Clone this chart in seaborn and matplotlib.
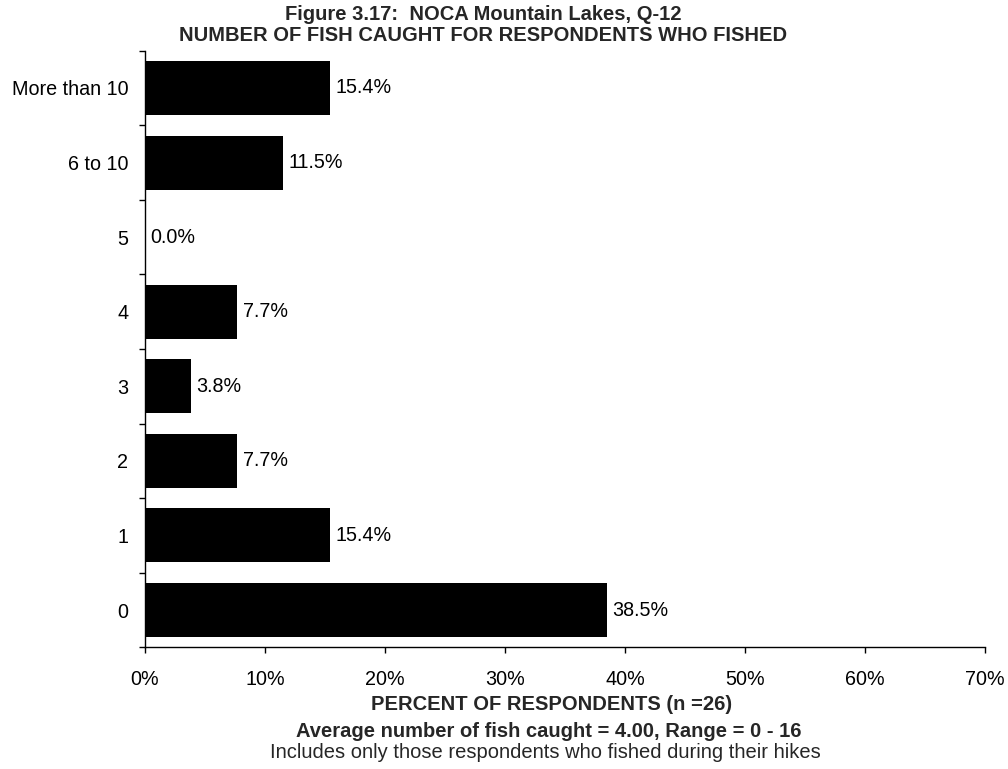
import numpy as np
import pandas as pd
import matplotlib
matplotlib.use("Agg")
import matplotlib.pyplot as plt
import seaborn as sns
from matplotlib.ticker import FixedLocator, PercentFormatter

categories = ["More than 10", "6 to 10", "5", "4", "3", "2", "1", "0"]
percents = [15.4, 11.5, 0.0, 7.7, 3.8, 7.7, 15.4, 38.5]
x_ticks = [0, 10, 20, 30, 40, 50, 60, 70]

title_lines = ["Figure 3.17:  NOCA Mountain Lakes, Q-12",
               "NUMBER OF FISH CAUGHT FOR RESPONDENTS WHO FISHED"]
x_label = "PERCENT OF RESPONDENTS (n =26)"
summary_line = "Average number of fish caught = 4.00, Range = 0 - 16"
note_line = "Includes only those respondents who fished during their hikes"

sns.set_theme(style="ticks")
plt.rcParams["font.family"] = ["Liberation Sans", "DejaVu Sans"]

df = pd.DataFrame({"category": categories, "percent": percents})

W, H = 1008, 769
fig = plt.figure(figsize=(W / 100, H / 100), dpi=100)
ax = fig.add_axes([145 / W, 1 - 647.3 / H, 840 / W, 596.6 / H])

sns.barplot(data=df, y="category", x="percent", order=categories,
            orient="h", color="black", width=0.724, saturation=1,
            edgecolor="black", linewidth=0, ax=ax)

for container in ax.containers:
    ax.bar_label(container, labels=[f"{v:.1f}%" for v in percents],
                 padding=4, fontsize=14.2, color="black")

ax.set_xlim(0, 70)
ax.set_ylim(len(categories) - 0.5, -0.5)
ax.set_xticks(x_ticks)
ax.xaxis.set_major_formatter(PercentFormatter(decimals=0))
ax.tick_params(axis="x", labelsize=14.2, length=4.3, width=1, color="black",
               direction="out", pad=12, labelcolor="black")
ax.tick_params(axis="y", which="major", length=0, labelsize=14.2, pad=12,
               labelcolor="black")
ax.yaxis.set_minor_locator(FixedLocator(np.arange(-0.5, len(categories), 1.0)))
ax.tick_params(axis="y", which="minor", length=4, width=1, color="black",
               direction="out")

for side in ["top", "right"]:
    ax.spines[side].set_visible(False)
for side in ["left", "bottom"]:
    ax.spines[side].set_color("black")
    ax.spines[side].set_linewidth(1)

ax.set_ylabel("")
ax.set_xlabel("")

# title block above the plot
fig.text(483 / W, 1 - 20 / H, title_lines[0], ha="center", va="baseline",
         fontsize=14.5, fontweight="bold")
fig.text(483 / W, 1 - 41 / H, title_lines[1], ha="center", va="baseline",
         fontsize=14.5, fontweight="bold")

# axis caption and notes below the plot
fig.text(552 / W, 1 - 710 / H, x_label, ha="center", va="baseline",
         fontsize=14.5, fontweight="bold")
fig.text(549 / W, 1 - 737 / H, summary_line, ha="center", va="baseline",
         fontsize=14.5, fontweight="bold")
fig.text(545 / W, 1 - 758 / H, note_line, ha="center", va="baseline",
         fontsize=14.5)

fig.savefig("out.png", dpi=100, facecolor="white")
